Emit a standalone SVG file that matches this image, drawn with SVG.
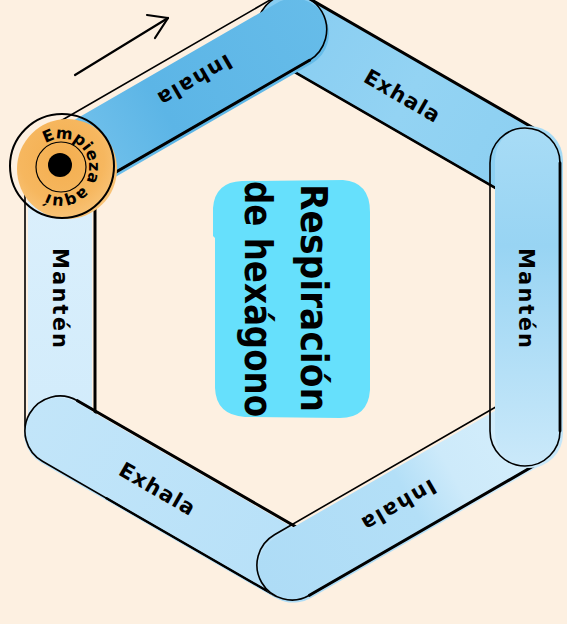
<svg xmlns="http://www.w3.org/2000/svg" width="567" height="624" viewBox="0 0 567 624">
<defs>
<style>
.ol{fill:none;stroke:#000;stroke-width:1.6}
.th{stroke:#000;stroke-linecap:round;fill:none}
.lbl{font-family:"DejaVu Sans","Liberation Sans",sans-serif;font-weight:700;font-size:21px;fill:#000;text-anchor:middle;dominant-baseline:central}
.ttl{font-family:"DejaVu Sans","Liberation Sans",sans-serif;font-weight:700;font-size:37px;fill:#000}
</style>
<linearGradient id="gTL" x1="0" y1="0" x2="1" y2="0"><stop offset="0" stop-color="#80C9EF"/><stop offset="0.45" stop-color="#5CB5E6"/><stop offset="1" stop-color="#66BCE9"/></linearGradient>
<linearGradient id="gTR" x1="0" y1="0" x2="1" y2="0"><stop offset="0" stop-color="#86CCF1"/><stop offset="0.5" stop-color="#93D3F3"/><stop offset="1" stop-color="#8BCFF1"/></linearGradient>
<linearGradient id="gR" x1="0" y1="0" x2="1" y2="0"><stop offset="0" stop-color="#A8DCF6"/><stop offset="0.35" stop-color="#98D4F3"/><stop offset="1" stop-color="#CBE9FA"/></linearGradient>
<linearGradient id="gB" x1="0" y1="0" x2="1" y2="0"><stop offset="0" stop-color="#D6EFFC"/><stop offset="0.35" stop-color="#CDEAFA"/><stop offset="0.5" stop-color="#B3DFF7"/><stop offset="1" stop-color="#AEDCF6"/></linearGradient>
<linearGradient id="gBL" x1="0" y1="0" x2="1" y2="0"><stop offset="0" stop-color="#B6E0F8"/><stop offset="1" stop-color="#C2E5F9"/></linearGradient>
<linearGradient id="gL" x1="0" y1="0" x2="1" y2="0"><stop offset="0" stop-color="#D0EBFB"/><stop offset="1" stop-color="#DDF0FC"/></linearGradient>
<radialGradient id="gO" cx="0.45" cy="0.4" r="0.6"><stop offset="0" stop-color="#F4AE4F"/><stop offset="0.7" stop-color="#F6B75F"/><stop offset="1" stop-color="#F8C377"/></radialGradient>
</defs>
<rect width="567" height="624" fill="#FDF0E1"/>

<g id="title">
<path d="M242,181 L343,180 Q370,182 370,212 L370,390 Q368,418 340,418 L245,417 Q216,415 215,388 L215,238 L213,236 L213,208 Q215,182 242,181 Z" fill="#66E0FC"/>
<text class="ttl" transform="translate(301,184) rotate(90)" textLength="228" lengthAdjust="spacingAndGlyphs">Respiración</text>
<text class="ttl" transform="translate(245,181) rotate(90)" textLength="236" lengthAdjust="spacingAndGlyphs">de hexágono</text>
</g>

<g id="bars">
<g id="bar-manten-left">
<g transform="translate(60,297) rotate(270)">
<rect x="-169" y="-32" width="338" height="64" rx="32" fill="url(#gL)"/>
<rect x="-169" y="-35" width="338" height="70" rx="35" class="ol" stroke-width="1"/>
<line x1="-134" y1="35" x2="134" y2="35" class="th" stroke-width="3"/>
</g>
<text class="lbl" transform="translate(60,298) rotate(90)" textLength="100">Mantén</text>
</g>

<g id="bar-exhala-topright">
<g transform="translate(408,96) rotate(30)">
<rect x="-169" y="-34" width="338" height="70" rx="35" fill="url(#gTR)"/>
<rect x="-169" y="-35" width="338" height="71" rx="35" class="ol"/>
<line x1="-134" y1="-35" x2="134" y2="-35" class="th" stroke-width="3"/>
<line x1="-134" y1="36" x2="134" y2="36" class="th" stroke-width="2.6"/>
</g>
<text class="lbl" transform="translate(402,96) rotate(30)" textLength="84">Exhala</text>
</g>

<g id="bar-exhala-bottomleft">
<g transform="translate(176,498) rotate(210)">
<rect x="-169" y="-37" width="338" height="70" rx="35" fill="url(#gBL)"/>
<rect x="-169" y="-35" width="338" height="70" rx="35" class="ol" stroke-width="1.2"/>
<line x1="-134" y1="35" x2="134" y2="35" class="th" stroke-width="3"/>
<line x1="-134" y1="-35" x2="60" y2="-35" class="th" stroke-width="2.4"/>
</g>
<text class="lbl" transform="translate(157,489) rotate(30)" textLength="84">Exhala</text>
</g>

<g id="bar-inhala-bottom">
<g transform="translate(408,498) rotate(150)">
<rect x="-169" y="-38" width="338" height="70" rx="35" fill="url(#gB)"/>
<rect x="-169" y="-35" width="338" height="70" rx="35" class="ol" stroke-width="1.2"/>
<line x1="-134" y1="-35" x2="134" y2="-35" class="th" stroke-width="3"/>
</g>
<text class="lbl" transform="translate(399,505) rotate(150)" textLength="82">Inhala</text>
</g>

<g id="bar-manten-right">
<g transform="translate(525,297) rotate(90)">
<rect x="-171" y="-38" width="342" height="68" rx="34" fill="url(#gR)"/>
<rect x="-169" y="-35" width="338" height="70" rx="35" class="ol" stroke-width="1.3"/>
<line x1="-134" y1="-35" x2="134" y2="-35" class="th" stroke-width="2.8"/>
</g>
<text class="lbl" transform="translate(526,298) rotate(90)" textLength="100">Mantén</text>
</g>

<g id="bar-inhala-topleft">
<g transform="translate(176,97) rotate(-30)">
<rect x="-169" y="-31" width="338" height="70" rx="35" fill="url(#gTL)"/>
<rect x="-169" y="-37" width="338" height="72" rx="36" class="ol" stroke-width="1.5"/>
<line x1="-134" y1="35" x2="134" y2="35" class="th" stroke-width="3"/>
</g>
<text class="lbl" transform="translate(195,80) rotate(150)" textLength="82">Inhala</text>
</g>
</g>

<g id="start">
<circle cx="67" cy="169" r="50" fill="url(#gO)"/>
<circle cx="62" cy="166" r="52" fill="none" stroke="#000" stroke-width="2"/>
<circle cx="61" cy="167" r="25" fill="none" stroke="#000" stroke-width="1.2"/>
<circle cx="60" cy="165" r="12" fill="#000"/>
<path id="cpath" d="M45.5,143.5 A28,28 0 0 1 89,167 A28,28 0 0 1 42,189.5" fill="none"/>
<text font-family="DejaVu Sans, Liberation Sans, sans-serif" font-weight="700" font-size="16" letter-spacing="0" fill="#000"><textPath href="#cpath">Empieza aquí</textPath></text>
</g>

<g id="arrow" fill="none" stroke="#000" stroke-width="2.2" stroke-linecap="round" stroke-linejoin="round">
<path d="M75,75 L168,18"/>
<path d="M147,15 L168,18 L155,38"/>
</g>
</svg>
